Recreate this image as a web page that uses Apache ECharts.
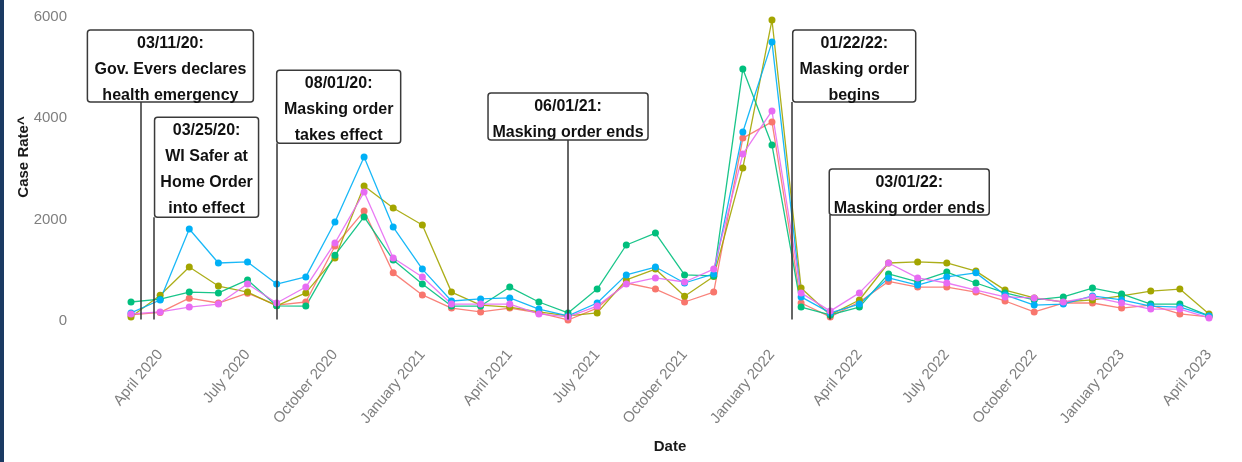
<!DOCTYPE html>
<html>
<head>
<meta charset="utf-8">
<script src="https://cdn.jsdelivr.net/npm/echarts@6/dist/echarts.min.js"></script>
<style>
  html, body { margin: 0; padding: 0; background: #fff; }
  #chart { width: 1242px; height: 462px; }
  .frame { position: absolute; left: 0; top: 0; width: 4px; height: 462px; background: #1b3a63; }
</style>
</head>
<body>
<div id="chart"></div>
<div class="frame"></div>
<script>
// monthly points, first of each month
const months = [
  '2020-03', '2020-04', '2020-05', '2020-06', '2020-07', '2020-08', '2020-09', '2020-10',
  '2020-11', '2020-12', '2021-01', '2021-02', '2021-03', '2021-04', '2021-05', '2021-06',
  '2021-07', '2021-08', '2021-09', '2021-10', '2021-11', '2021-12', '2022-01', '2022-02',
  '2022-03', '2022-04', '2022-05', '2022-06', '2022-07', '2022-08', '2022-09', '2022-10',
  '2022-11', '2022-12', '2023-01', '2023-02', '2023-03', '2023-04'
]

const redRates = [120, 170, 450, 355, 550, 315, 375, 1480, 2170, 950, 515, 255, 180, 255, 160, 20, 255, 750, 630, 375, 570, 3610, 3930, 355, 80, 375, 780, 670, 670, 570, 395, 180, 355, 355, 255, 315, 140, 80]
const oliveRates = [80, 510, 1065, 690, 570, 300, 555, 1245, 2665, 2230, 1895, 570, 315, 275, 180, 100, 160, 810, 1025, 490, 880, 3020, 5940, 650, 120, 415, 1145, 1165, 1145, 985, 610, 455, 375, 415, 495, 590, 630, 140]
const greenRates = [375, 430, 570, 555, 810, 300, 295, 1300, 2055, 1205, 730, 295, 295, 670, 375, 160, 630, 1500, 1735, 910, 890, 4975, 3475, 275, 120, 275, 930, 770, 965, 750, 555, 415, 475, 650, 535, 335, 335, 100]
const blueRates = [160, 415, 1815, 1145, 1165, 730, 870, 1955, 3235, 1855, 1025, 395, 435, 455, 235, 100, 355, 910, 1065, 750, 930, 3730, 5505, 475, 160, 335, 850, 710, 870, 950, 515, 315, 335, 495, 415, 295, 275, 100]
const magentaRates = [140, 180, 275, 335, 730, 355, 670, 1540, 2545, 1245, 870, 335, 335, 335, 140, 80, 295, 730, 850, 770, 1025, 3295, 4145, 555, 195, 555, 1145, 850, 750, 610, 475, 455, 375, 475, 355, 235, 235, 60]

const seriesNames = ['Group 1', 'Group 2', 'Group 3', 'Group 4', 'Group 5']
const seriesColors = ['#F8766D', '#A3A500', '#00BF7D', '#00B0F6', '#E76BF3']

const tickMonths = ['2020-04', '2020-07', '2020-10', '2021-01', '2021-04', '2021-07', '2021-10',
  '2022-01', '2022-04', '2022-07', '2022-10', '2023-01', '2023-04']
const tickLabels = ['April 2020', 'July 2020', 'October 2020', 'January 2021', 'April 2021', 'July 2021',
  'October 2021', 'January 2022', 'April 2022', 'July 2022', 'October 2022', 'January 2023', 'April 2023']

const eventDates = ['2020-03-11', '2020-03-25', '2020-08-01', '2021-06-01', '2022-01-22', '2022-03-01']
const eventTexts = [
  '03/11/20:\nGov. Evers declares\nhealth emergency',
  '03/25/20:\nWI Safer at\nHome Order\ninto effect',
  '08/01/20:\nMasking order\ntakes effect',
  '06/01/21:\nMasking order ends',
  '01/22/22:\nMasking order\nbegins',
  '03/01/22:\nMasking order ends'
]

// where each box sits: bottom edge as a y value, then pixel offset/size relative to its line
const boxLayout = [
  { bottom: 4320, dx: -53, w: 166, h: 72 },
  { bottom: 2050, dx: 1, w: 104, h: 100 },
  { bottom: 3510, dx: 0, w: 124, h: 73 },
  { bottom: 3570, dx: -80, w: 160, h: 47 },
  { bottom: 4320, dx: 1, w: 123, h: 72 },
  { bottom: 2090, dx: -1, w: 160, h: 46 }
]

// x is counted in months since March 2020 (day of month as a fraction)
const monthIndex = (s) => {
  const p = s.split('-').map(Number)
  const day = p[2] || 1
  const daysInMonth = new Date(p[0], p[1], 0).getDate()
  return (p[0] - 2020) * 12 + (p[1] - 3) + (day - 1) / daysInMonth
}

const font = '"Liberation Sans", Arial, sans-serif'
const monthX = months.map(monthIndex)
const tickX = tickMonths.map(monthIndex)
const allRates = [redRates, oliveRates, greenRates, blueRates, magentaRates]

const chart = echarts.init(document.getElementById('chart'))

const series = allRates.map((rates, k) => ({
  name: seriesNames[k],
  type: 'line',
  data: monthX.map((x, i) => [x, rates[i]]),
  symbol: 'circle',
  symbolSize: 7,
  clip: false,
  itemStyle: { color: seriesColors[k] },
  lineStyle: { width: 1.3, color: seriesColors[k], opacity: 0.9 }
}))

series.push({
  name: 'events',
  type: 'line',
  data: [],
  silent: true,
  markLine: {
    silent: true,
    symbol: 'none',
    label: { show: false },
    lineStyle: { color: '#333', width: 1.5, type: 'solid' },
    data: eventDates.map((d, i) => [
      { coord: [monthIndex(d), 30] },
      { coord: [monthIndex(d), boxLayout[i].bottom] }
    ])
  }
})

chart.setOption({
  animation: false,
  backgroundColor: '#fff',
  textStyle: { fontFamily: font },
  grid: { left: 131, right: 33, top: 17, bottom: 141 },
  xAxis: {
    type: 'value',
    min: 0,
    max: months.length - 1,
    name: 'Date',
    nameLocation: 'middle',
    nameGap: 118,
    nameMoveOverlap: false,
    nameTextStyle: { fontSize: 15, fontWeight: 'bold', color: '#1a1a1a', fontFamily: font },
    axisLine: { show: false },
    axisTick: { show: false },
    splitLine: { show: false },
    axisLabel: {
      customValues: tickX,
      rotate: 50,
      margin: 31,
      fontSize: 15,
      color: '#7f7f7f',
      fontFamily: font,
      formatter: (v) => {
        let best = 0
        tickX.forEach((t, i) => { if (Math.abs(t - v) < Math.abs(tickX[best] - v)) best = i })
        return tickLabels[best]
      }
    }
  },
  yAxis: {
    type: 'value',
    min: 0,
    max: 6000,
    interval: 2000,
    name: 'Case Rate^',
    nameLocation: 'middle',
    nameGap: 100,
    nameMoveOverlap: false,
    nameTextStyle: { fontSize: 15, fontWeight: 'bold', color: '#1a1a1a', fontFamily: font, padding: [0, 0, 0, 24] },
    axisLine: { show: false },
    axisTick: { show: false },
    splitLine: { show: false },
    axisLabel: { fontSize: 15, color: '#7f7f7f', margin: 64, fontFamily: font, formatter: (v) => String(v) }
  },
  series: series
})

// annotation boxes, anchored on the event date / box bottom value
const elements = []
eventDates.forEach((d, i) => {
  const b = boxLayout[i]
  const pt = chart.convertToPixel({ seriesIndex: 0 }, [monthIndex(d), b.bottom])
  const left = pt[0] + b.dx
  const top = pt[1] - b.h
  elements.push({
    type: 'rect',
    z: 100,
    shape: { x: left, y: top, width: b.w, height: b.h, r: 3 },
    style: { fill: '#fff', stroke: '#3a3a3a', lineWidth: 1.5 }
  })
  elements.push({
    type: 'text',
    z: 101,
    x: left + b.w / 2,
    y: top,
    style: {
      text: eventTexts[i],
      font: 'bold 16px ' + font,
      fill: '#111',
      align: 'center',
      verticalAlign: 'top',
      lineHeight: 26
    }
  })
})
chart.setOption({ graphic: elements })
</script>
</body>
</html>
